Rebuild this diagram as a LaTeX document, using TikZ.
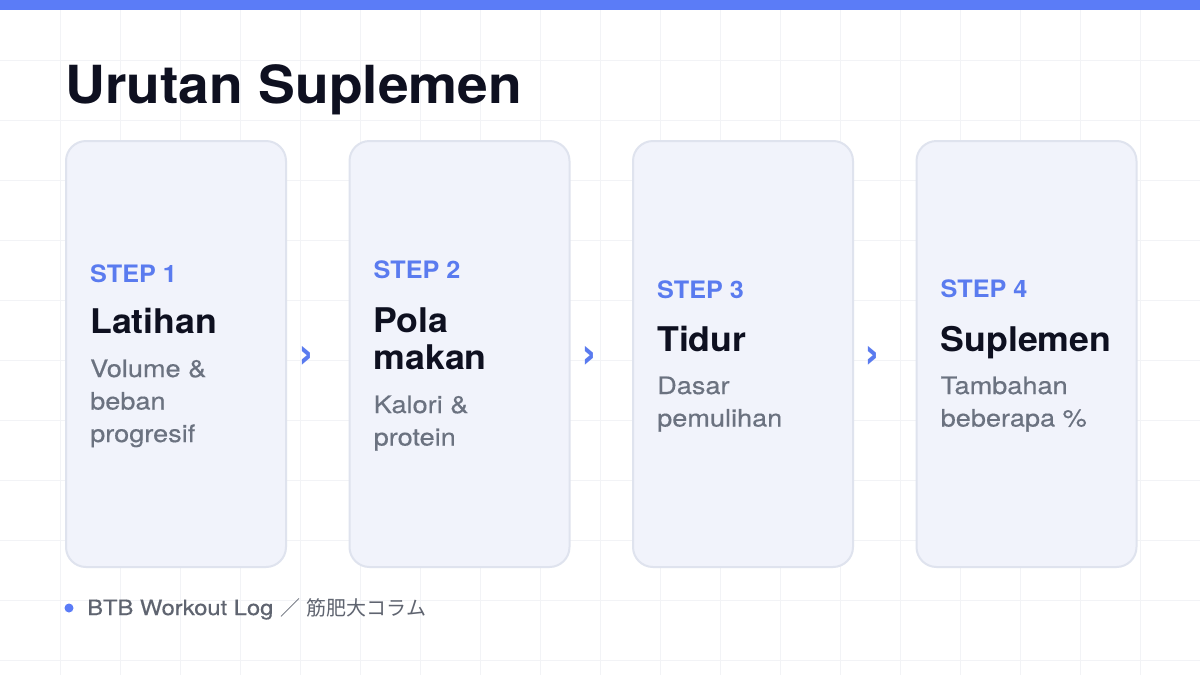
\documentclass[tikz,border=0pt]{standalone}
\usepackage{fontspec}
\setmainfont[FakeStretch=1.13,FakeBold=0.4]{TeX Gyre Heros}
\newfontfamily\heavyfont[FakeStretch=1.05]{TeX Gyre Heros}
\newfontfamily\cjk{Noto Sans CJK JP}
\definecolor{barblue}{HTML}{5B7CF7}
\definecolor{stepblue}{HTML}{5A7BEF}
\definecolor{inkdark}{HTML}{0E1020}
\definecolor{descgray}{HTML}{6B7280}
\definecolor{footgray}{HTML}{5F6470}
\definecolor{cardfill}{HTML}{F1F3FB}
\definecolor{cardline}{HTML}{DFE3EE}
\definecolor{gridgray}{HTML}{F2F3F6}
\begin{document}
\begin{tikzpicture}[x=1pt,y=-1pt,
  card/.style={draw=cardline, fill=cardfill, line width=2pt, rounded corners=20pt,
    minimum width=220pt, minimum height=426pt, anchor=north west, inner sep=0pt},
  txt/.style={inner sep=0pt, anchor=base west},
  steplbl/.style={txt, text=stepblue, font=\heavyfont\fontsize{24}{28}\selectfont\bfseries},
  cardtitle/.style={txt, text=inkdark, font=\heavyfont\fontsize{34}{40}\selectfont\bfseries},
  carddesc/.style={txt, text=descgray, font=\fontsize{24}{30}\selectfont},
  chev/.style={inner sep=0pt, text=stepblue, font=\heavyfont\fontsize{46}{50}\selectfont\bfseries}]
\useasboundingbox (0,0) rectangle (1200,675);
\fill[white] (0,0) rectangle (1200,675);
\foreach \gx in {60,120,...,1140} \draw[gridgray, line width=1pt] (\gx,0) -- (\gx,675);
\foreach \gy in {60,120,...,660} \draw[gridgray, line width=1pt] (0,\gy) -- (1200,\gy);
\fill[barblue] (0,0) rectangle (1200,10);
\node[txt, text=inkdark, font=\heavyfont\fontsize{52.5}{60}\selectfont\bfseries] (heading) at (65,103) {Urutan Suplemen};
% cards
\node[card] (card1) at (65,140) {};
\node[card] (card2) at (348.5,140) {};
\node[card] (card3) at (632,140) {};
\node[card] (card4) at (915.5,140) {};
% step 1
\node[steplbl] (step1) at (90,282) {STEP 1};
\node[cardtitle] (title1) at (90,333) {Latihan};
\node[carddesc] (desc1a) at (90,377) {Volume \&};
\node[carddesc] (desc1b) at (90,409.5) {beban};
\node[carddesc] (desc1c) at (90,442) {progresif};
% step 2
\node[steplbl] (step2) at (373.5,278) {STEP 2};
\node[cardtitle] (title2a) at (373.5,332) {Pola};
\node[cardtitle] (title2b) at (373.5,369) {makan};
\node[carddesc] (desc2a) at (373.5,413) {Kalori \&};
\node[carddesc] (desc2b) at (373.5,445.5) {protein};
% step 3
\node[steplbl] (step3) at (657,298) {STEP 3};
\node[cardtitle] (title3) at (657,351) {Tidur};
\node[carddesc] (desc3a) at (657,394) {Dasar};
\node[carddesc] (desc3b) at (657,426.5) {pemulihan};
% step 4
\node[steplbl] (step4) at (940.5,297) {STEP 4};
\node[cardtitle] (title4) at (940.5,351) {Suplemen};
\node[carddesc] (desc4a) at (940.5,394) {Tambahan};
\node[carddesc] (desc4b) at (940.5,426.5) {beberapa \%};
% chevrons
\node[chev] (next1) at (307,357) {›};
\node[chev] (next2) at (590,357) {›};
\node[chev] (next3) at (873,357) {›};
% footer
\fill[barblue] (69,608) circle[radius=4.5];
\node[txt, text=footgray, font=\fontsize{21}{24}\selectfont] (source) at (87,615)
  {BTB Workout Log {\cjk\fontsize{20}{24}\selectfont ／} {\cjk\fontsize{20}{24}\selectfont 筋肥大コラム}};
\end{tikzpicture}
\end{document}
